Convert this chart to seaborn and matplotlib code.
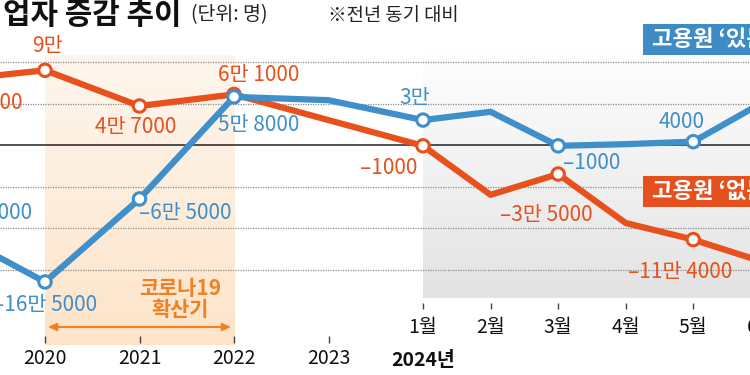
import numpy as np
import matplotlib
matplotlib.use('Agg')
import matplotlib.pyplot as plt
import matplotlib.patches as mpatches
from matplotlib.colors import LinearSegmentedColormap
import seaborn as sns
import pandas as pd

# data (전년 동기 대비 증감, 명)
years = ['2019', '2020', '2021', '2022', '2023']
months = ['1월', '2월', '3월', '4월', '5월', '6월']
no_emp = [78000, 90000, 47000, 61000, 30000, -1000, -60000, -35000, -94000, -114000, -140000]
with_emp = [-104000, -165000, -65000, 58000, 54000, 30000, 40000, -1000, 1000, 4000, 50000]
marked = [0, 1, 2, 3, 5, 7, 9]   # points with circle + label

# x scale: one unit per year, months squeezed in after 2023
month_step = 0.715
x_pos = list(range(len(years))) + [len(years) + i * month_step for i in range(len(months))]

df = pd.DataFrame({'x': x_pos * 2,
                   'value': no_emp + with_emp,
                   'group': ['없는'] * len(no_emp) + ['있는'] * len(with_emp)})

orange = '#e8501c'
blue = '#3e8fca'
covid = '#f08020'

sns.set_style('white')
plt.rcParams['font.family'] = ['Noto Sans CJK KR', 'DejaVu Sans']

fig = plt.figure(figsize=(7.5, 3.75), dpi=100)
ax = fig.add_axes([0, 0, 1, 1])

xlim = (0.5238, 8.4603)
ylim = (-277100, 174700)
ax.set_xlim(xlim)
ax.set_ylim(ylim)


def fy(p):
    # pixel row -> axes fraction
    return 1 - p / 375


def dy(p):
    # pixel row -> data value
    return ylim[0] + fy(p) * (ylim[1] - ylim[0])


# background shading
grad = np.linspace(0, 1, 256).reshape(-1, 1)
peach = LinearSegmentedColormap.from_list('peach', ['#fef6ee', '#fde4c9'])
ax.imshow(grad, cmap=peach, extent=(1, 3, dy(345), dy(55)), aspect='auto', origin='upper', zorder=0)
grey = LinearSegmentedColormap.from_list('grey', ['#ffffff', '#e3e3e3'])
ax.imshow(grad, cmap=grey, extent=(5, xlim[1], dy(298), dy(45)), aspect='auto', origin='upper', zorder=0)

# grid
for g in [100000, 50000, -50000, -100000, -150000]:
    ax.axhline(g, color='#8c8c8c', lw=0.9, ls=(0, (1, 1)), zorder=1)
ax.axhline(0, color='#222222', lw=1.1, zorder=1)

# lines
pal = {'없는': orange, '있는': blue}
sns.lineplot(data=df, x='x', y='value', hue='group', palette=pal,
             lw=4.5, legend=False, ax=ax, zorder=3, solid_joinstyle='round')
pts = df[df.index.isin(marked) | df.index.isin([i + len(no_emp) for i in marked])]
sns.scatterplot(data=pts, x='x', y='value', hue='group', palette=pal,
                s=80, marker='o', linewidth=2.2, legend=False, ax=ax, zorder=4)
ax.collections[-1].set_facecolor('white')
ax.collections[-1].set_edgecolor([pal[g] for g in pts['group']])


def fmt(v):
    sign = '–' if v < 0 else ''
    v = abs(v)
    man, rest = divmod(v, 10000)
    if man and rest:
        return f'{sign}{man}만 {rest}'
    if man:
        return f'{sign}{man}만'
    return f'{sign}{rest}'


# label offsets in pixels (dx, dy), alignment
orange_off = {0: (72, -23, 'right'), 1: (2, 24, 'center'), 2: (-4, -21, 'center'), 3: (25, 19, 'center'),
              5: (-34, -22, 'center'), 7: (-12, -41, 'center'), 9: (-13, -32, 'center')}
blue_off = {0: (82, 18, 'right'), 1: (52, -23, 'right'), 2: (46, -14, 'center'), 3: (25, -28, 'center'),
            5: (-8, 22, 'center'), 7: (34, -17, 'center'), 9: (-12, 20, 'center')}
for vals, offs, col in [(no_emp, orange_off, orange), (with_emp, blue_off, blue)]:
    for i, (ox, oy, ha) in offs.items():
        ax.annotate(fmt(vals[i]), (x_pos[i], vals[i]), xytext=(ox, oy), textcoords='offset pixels',
                    ha=ha, va='center', color=col, fontsize=15, zorder=5, annotation_clip=False)

# x ticks (2019 sits off the left edge)
tr = ax.get_xaxis_transform()
ax.vlines(x_pos[1:len(years)], fy(343), fy(336), color='#444444', lw=1, transform=tr)
ax.vlines(x_pos[len(years):], fy(309), fy(303), color='#444444', lw=1, transform=tr)
for x, lab in zip(x_pos[1:len(years)], years[1:]):
    ax.text(x, fy(358), lab, transform=tr, ha='center', va='center', fontsize=14, color='#111111')
for x, lab in zip(x_pos[len(years):], months):
    ax.text(x, fy(328), lab, transform=tr, ha='center', va='center', fontsize=14, color='#111111')
ax.text(x_pos[len(years)], fy(361), '2024년', transform=tr, ha='center', va='center', fontsize=14,
        fontweight='bold', color='#111111')

# covid period
ax.annotate('', xy=(1, fy(327)), xytext=(3, fy(327)), xycoords=tr, textcoords=tr,
            arrowprops=dict(arrowstyle='<|-|>,head_length=0.5,head_width=0.22', color=covid, lw=1.5))
ax.text(180 / 750, fy(299), '코로나19\n확산기', transform=ax.transAxes, ha='center', va='center',
        fontsize=15, fontweight='bold', color=covid, linespacing=1.0)

# title
fig.text(182 / 750, fy(15), '자영업자 증감 추이', ha='right', va='center', fontsize=21.5, fontweight='bold', color='#111111')
fig.text(191 / 750, fy(15), '(단위: 명)', ha='left', va='center', fontsize=14, color='#222222')
fig.text(328 / 750, fy(15), '※전년 동기 대비', ha='left', va='center', fontsize=13.5, color='#222222')

# legend boxes
for top, col, lab in [(24, '#3d8cc5', '고용원 ‘있는 자영업자’'), (176, '#e5501e', '고용원 ‘없는 자영업자’')]:
    fig.patches.append(mpatches.Rectangle((643 / 750, fy(top + 31)), 0.3, 31 / 375, transform=fig.transFigure,
                                          facecolor=col, edgecolor='none', zorder=6))
    fig.text(652 / 750, fy(top + 15.5), lab, ha='left', va='center', fontsize=16, fontweight='bold',
             color='white', zorder=7)

# source
fig.text(741 / 750, fy(365), '〈자료: 통계청〉', ha='left', va='center', fontsize=13, color='#222222')

ax.set_axis_off()
plt.savefig('out.png', dpi=100)
